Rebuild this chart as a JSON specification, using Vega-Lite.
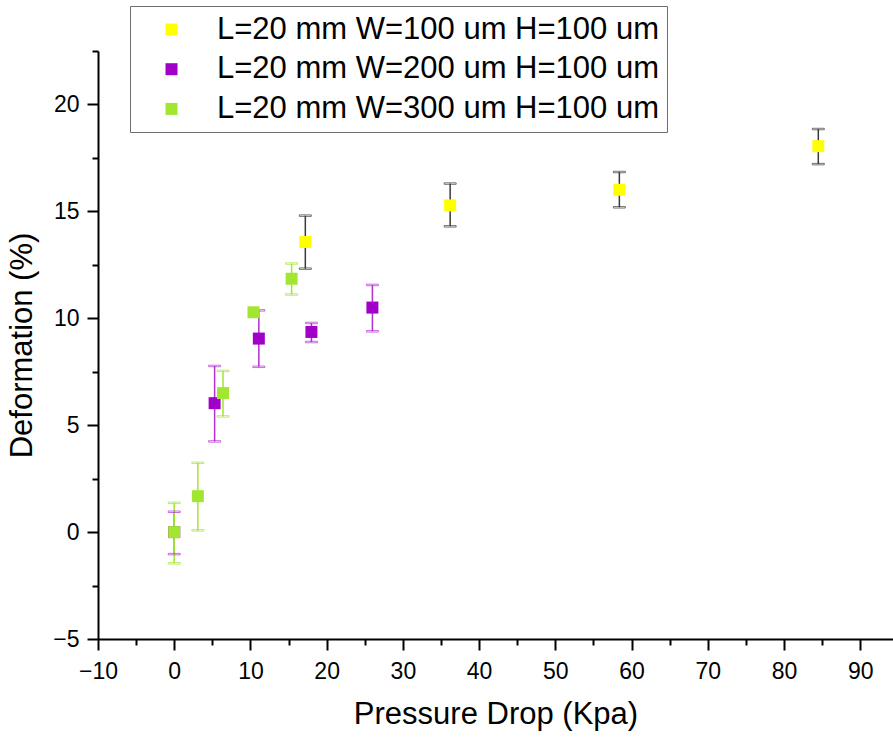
{
  "$schema": "https://vega.github.io/schema/vega-lite/v6.json",
  "autosize": "none",
  "width": 795,
  "height": 588,
  "padding": {"left": 98, "top": 51, "right": 0, "bottom": 99},
  "background": "white",
  "config": {
    "view": {"stroke": null},
    "font": "Liberation Sans",
    "axis": {
      "grid": false,
      "domainColor": "#000000",
      "domainWidth": 2,
      "tickColor": "#000000",
      "tickWidth": 2,
      "labelColor": "#000000",
      "titleColor": "#000000",
      "labelFont": "Liberation Sans",
      "titleFont": "Liberation Sans",
      "titleFontWeight": "normal",
      "labelFontSize": 23,
      "titleFontSize": 31,
      "labelFlush": false
    },
    "legend": {
      "labelFont": "Liberation Sans",
      "labelFontSize": 31,
      "labelColor": "#000000",
      "labelLimit": 0
    }
  },
  "data": {
    "values": [
      {"series": "L=20 mm W=100 um H=100 um", "p": 17.2, "d": 13.57, "lo": 12.32, "hi": 14.8},
      {"series": "L=20 mm W=100 um H=100 um", "p": 36.2, "d": 15.28, "lo": 14.3, "hi": 16.3},
      {"series": "L=20 mm W=100 um H=100 um", "p": 58.4, "d": 16.01, "lo": 15.19, "hi": 16.84},
      {"series": "L=20 mm W=100 um H=100 um", "p": 84.5, "d": 18.05, "lo": 17.21, "hi": 18.85},
      {"series": "L=20 mm W=200 um H=100 um", "p": 0, "d": 0, "lo": -1.03, "hi": 0.95},
      {"series": "L=20 mm W=200 um H=100 um", "p": 5.3, "d": 6.03, "lo": 4.24, "hi": 7.77},
      {"series": "L=20 mm W=200 um H=100 um", "p": 11.1, "d": 9.05, "lo": 7.73, "hi": 10.37},
      {"series": "L=20 mm W=200 um H=100 um", "p": 18.0, "d": 9.36, "lo": 8.89, "hi": 9.78},
      {"series": "L=20 mm W=200 um H=100 um", "p": 26.0, "d": 10.5, "lo": 9.39, "hi": 11.56},
      {"series": "L=20 mm W=300 um H=100 um", "p": 0, "d": 0, "lo": -1.46, "hi": 1.37},
      {"series": "L=20 mm W=300 um H=100 um", "p": 3.1, "d": 1.68, "lo": 0.08, "hi": 3.24},
      {"series": "L=20 mm W=300 um H=100 um", "p": 6.4, "d": 6.5, "lo": 5.41, "hi": 7.54},
      {"series": "L=20 mm W=300 um H=100 um", "p": 10.4, "d": 10.28, "lo": null, "hi": null},
      {"series": "L=20 mm W=300 um H=100 um", "p": 15.4, "d": 11.85, "lo": 11.11, "hi": 12.56}
    ]
  },
  "resolve": {"axis": {"x": "independent", "y": "independent"}},
  "layer": [
    {
      "transform": [{"filter": "datum.lo != null"}],
      "mark": {"type": "rule", "strokeWidth": 1.5},
      "encoding": {
        "x": {"field": "p", "type": "quantitative",
              "scale": {"domain": [-10, 94.3], "nice": false, "zero": false},
              "axis": {"orient": "bottom", "values": [-5, 5, 15, 25, 35, 45, 55, 65, 75, 85], "labels": false, "domain": false, "tickSize": 6, "title": null}},
        "y": {"field": "lo", "type": "quantitative",
              "scale": {"domain": [-5, 22.5], "nice": false, "zero": false},
              "axis": {"orient": "left", "values": [-2.5, 2.5, 7.5, 12.5, 17.5, 22.5], "labels": false, "domain": false, "tickSize": 6, "title": null}},
        "y2": {"field": "hi"},
        "stroke": {"field": "series", "type": "nominal",
                   "scale": {"range": ["#3a3a3a", "#b030d0", "#a2e632"]}, "legend": null}
      }
    },
    {
      "transform": [{"filter": "datum.lo != null"}],
      "mark": {"type": "tick", "orient": "horizontal", "size": 12, "thickness": 1.5},
      "encoding": {
        "x": {"field": "p", "type": "quantitative", "axis": null},
        "y": {"field": "lo", "type": "quantitative", "axis": null},
        "stroke": {"field": "series", "type": "nominal", "legend": null},
        "fill": {"value": null}
      }
    },
    {
      "transform": [{"filter": "datum.lo != null"}],
      "mark": {"type": "tick", "orient": "horizontal", "size": 12, "thickness": 1.5},
      "encoding": {
        "x": {"field": "p", "type": "quantitative", "axis": null},
        "y": {"field": "hi", "type": "quantitative", "axis": null},
        "stroke": {"field": "series", "type": "nominal", "legend": null},
        "fill": {"value": null}
      }
    },
    {
      "mark": {"type": "square", "size": 144, "filled": true, "opacity": 1},
      "encoding": {
        "x": {"field": "p", "type": "quantitative",
              "axis": {"orient": "bottom", "values": [-10, 0, 10, 20, 30, 40, 50, 60, 70, 80, 90], "tickSize": 11, "labelPadding": 10, "title": "Pressure Drop (Kpa)", "titlePadding": 16}},
        "y": {"field": "d", "type": "quantitative",
              "axis": {"orient": "left", "values": [-5, 0, 5, 10, 15, 20], "tickSize": 11, "labelPadding": 8, "title": "Deformation (%)", "titlePadding": 14}},
        "fill": {"field": "series", "type": "nominal",
                 "scale": {"range": ["#ffff00", "#a000c8", "#a2e632"]},
                 "legend": {"title": null, "orient": "none", "legendX": 32, "legendY": -45,
                            "symbolType": "square", "symbolSize": 144, "symbolStrokeWidth": 0,
                            "padding": 8, "symbolOffset": 18, "labelOffset": 30, "rowPadding": 7.7,
                            "strokeColor": "#6e6e6e", "fillColor": "#ffffff"}}
      }
    }
  ]
}
